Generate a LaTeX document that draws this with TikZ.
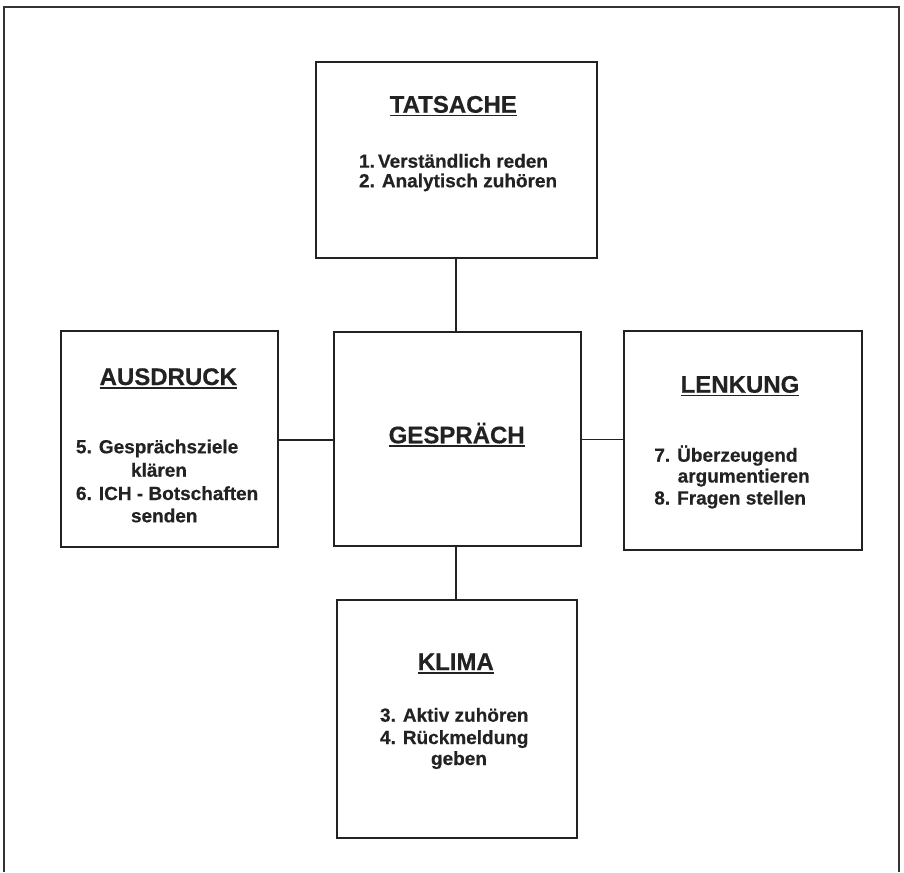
\documentclass[tikz,border=0pt]{standalone}
\usepackage{fontspec}
\newfontfamily\hb{Liberation Sans Bold}[FakeBold=0.5]
\definecolor{ink}{HTML}{222222}
\definecolor{framec}{HTML}{333333}
\begin{document}
\begin{tikzpicture}[x=1pt,y=-1pt,
  box/.style={draw=ink,line width=2pt,minimum width=#1,inner sep=0pt,outer sep=0pt},
  conn/.style={draw=ink,line width=1.6pt},
  ttl/.style={anchor=base,inner sep=0pt,outer sep=0pt,text=ink,font=\hb\fontsize{24}{28}\selectfont},
  txt/.style={anchor=base west,inner sep=0pt,outer sep=0pt,text=ink,font=\hb\fontsize{19}{22}\selectfont},
  ul/.style={draw=ink,line width=1.5pt}]
\useasboundingbox (0,0) rectangle (904,872);
% outer frame (bottom edge lies outside the picture)
\coordinate (f1) at (4,872);
\coordinate (f2) at (4,7.5);
\coordinate (f3) at (899,7.5);
\coordinate (f4) at (899,872);
\draw[draw=framec,line width=2pt] (f1) -- (f2) -- (f3) -- (f4);
% boxes
\node[box=280.7pt,minimum height=196pt] (tat) at (456.35,159.7) {};
\node[box=246.7pt,minimum height=214.2pt] (ges) at (457.35,438.6) {};
\node[box=216.7pt,minimum height=215.7pt] (aus) at (169.35,438.85) {};
\node[box=237.7pt,minimum height=218.7pt] (len) at (743.15,440.35) {};
\node[box=240pt,minimum height=237.7pt] (kli) at (456.7,718.85) {};
% connectors
\draw[conn] ([xshift=-0.6pt]tat.south) -- ([xshift=-0.6pt]tat.south |- ges.north);
\draw[conn] ([xshift=-1pt]kli.north) -- ([xshift=-1pt]kli.north |- ges.south);
\draw[conn] ([yshift=-1pt]aus.east) -- ([yshift=-1pt]aus.east -| ges.west);
\draw[conn] ([yshift=-0.9pt]ges.east) -- ([yshift=-0.9pt]ges.east -| len.west);
% titles
\node[ttl] (tt1) at (453.3,112.7) {TATSACHE};
\node[ttl] (tt2) at (456.7,443.3) {GESPRÄCH};
\node[ttl] (tt3) at (168.3,385) {AUSDRUCK};
\node[ttl] (tt4) at (740,392.7) {LENKUNG};
\node[ttl] (tt5) at (455.8,670) {KLIMA};
\foreach \t in {tt1,tt2,tt3,tt4,tt5}
  \draw[ul] ([yshift=-2.8pt]\t.base west) -- ([yshift=-2.8pt]\t.base east);
% body texts
\node[txt] (a1) at (359,167.7) {1.\,Verständlich reden};
\node[txt] (a2) at (359,187.3) {2. Analytisch zuhören};
\node[txt] (b1) at (76,453.3) {5. Gesprächsziele};
\node[txt] (b2) at (131,476.7) {klären};
\node[txt] (b3) at (76,500) {6. ICH - Botschaften};
\node[txt] (b4) at (131,522.3) {senden};
\node[txt] (c1) at (654.3,461.7) {7. Überzeugend};
\node[txt] (c2) at (677.7,482.5) {argumentieren};
\node[txt] (c3) at (654.3,504.5) {8. Fragen stellen};
\node[txt] (d1) at (380,721.7) {3. Aktiv zuhören};
\node[txt] (d2) at (380,744) {4. Rückmeldung};
\node[txt] (d3) at (431,765) {geben};
\end{tikzpicture}
\end{document}
